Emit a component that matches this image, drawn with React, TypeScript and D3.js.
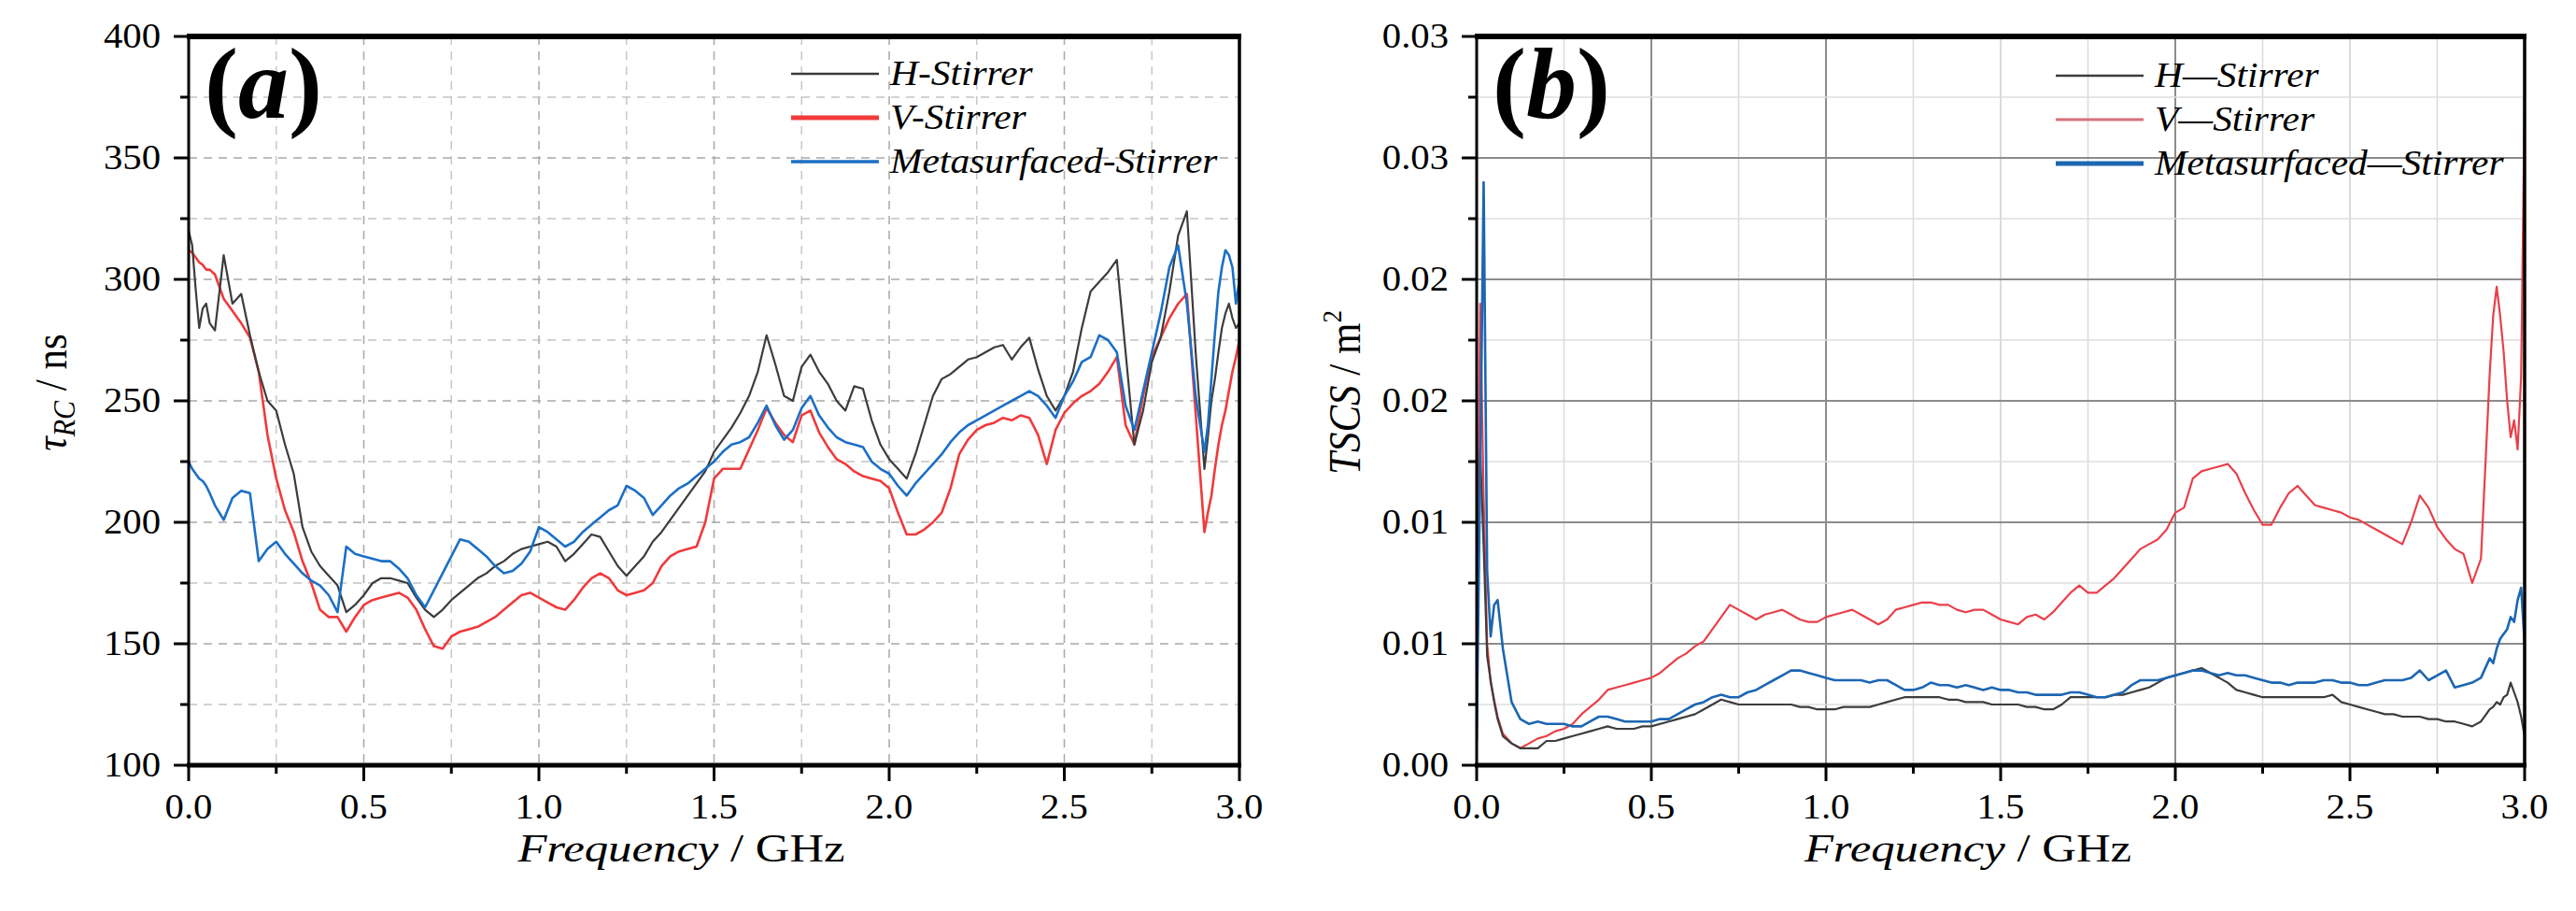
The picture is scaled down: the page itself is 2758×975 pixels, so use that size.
import React from 'react';
import * as d3 from 'd3';

const FONT = '"Liberation Serif", "Times New Roman", serif';

// frequency grid in GHz (denser at both band edges)
const freq = [
  0, 0.01, 0.02, 0.03, 0.04, 0.05, 0.06,
  0.075, 0.1, 0.125, 0.15, 0.175, 0.2, 0.225, 0.25, 0.275, 0.3,
  0.325, 0.35, 0.375, 0.4, 0.425, 0.45, 0.475, 0.5, 0.525, 0.55,
  0.575, 0.6, 0.625, 0.65, 0.675, 0.7, 0.725, 0.75, 0.775, 0.8,
  0.825, 0.85, 0.875, 0.9, 0.925, 0.95, 0.975, 1.0, 1.025, 1.05,
  1.075, 1.1, 1.125, 1.15, 1.175, 1.2, 1.225, 1.25, 1.275, 1.3,
  1.325, 1.35, 1.375, 1.4, 1.425, 1.45, 1.475, 1.5, 1.525, 1.55,
  1.575, 1.6, 1.625, 1.65, 1.675, 1.7, 1.725, 1.75, 1.775, 1.8,
  1.825, 1.85, 1.875, 1.9, 1.925, 1.95, 1.975, 2.0, 2.025, 2.05,
  2.075, 2.1, 2.125, 2.15, 2.175, 2.2, 2.225, 2.25, 2.275, 2.3,
  2.325, 2.35, 2.375, 2.4, 2.425, 2.45, 2.475, 2.5, 2.525, 2.55,
  2.575, 2.6, 2.625, 2.65, 2.675, 2.7, 2.725, 2.75, 2.775, 2.8,
  2.825, 2.85, 2.875, 2.9,
  2.91, 2.92, 2.93, 2.94, 2.95, 2.96, 2.97, 2.98, 2.99, 3.0,
];

// (a) tau_RC in ns
const tauH = [
  320, 314, 296, 280, 288, 290, 282,
  279, 310, 290, 294, 277, 262, 250, 246, 232, 220,
  198, 188, 182, 178, 174, 163, 166, 170, 175, 177,
  177, 176, 175, 169, 164, 161, 164, 168, 171, 174,
  177, 179, 182, 184, 187, 189, 190, 191, 192, 190,
  184, 187, 191, 195, 194, 188, 182, 178, 182, 186,
  192, 196, 201, 206, 211, 216, 221, 229, 234, 239,
  245, 252, 262, 277, 265, 252, 250, 264, 269, 262,
  257, 250, 246, 256, 255, 242, 232, 226, 222, 218,
  228, 240, 252, 259, 261, 264, 267, 268, 270, 272,
  273, 267, 272, 276, 263, 252, 246, 252, 262, 280,
  295, 299, 303, 308, 270, 232, 246, 266, 276, 295,
  318, 328, 270, 222,
  235, 250, 259, 270, 280, 286, 290, 284, 280, 282,
];
const tauV = [
  312, 311, 309, 307, 306, 304, 304,
  302, 292, 287, 282, 276, 262, 236, 218, 205, 196,
  184, 175, 164, 161, 161, 155, 161, 166, 168, 169,
  170, 171, 169, 164, 156, 149, 148, 153, 155, 156,
  157, 159, 161, 164, 167, 170, 171, 169, 167, 165,
  164, 168, 173, 177, 179, 177, 172, 170, 171, 172,
  175, 182, 186, 188, 189, 190, 200, 218, 222, 222,
  222, 230, 238, 247, 241, 236, 233, 244, 246, 237,
  231, 226, 224, 221, 219, 218, 217, 214, 204, 195,
  195, 197, 200, 204, 214, 228, 234, 238, 240, 241,
  243, 242, 244, 243, 236, 224, 238, 245, 249, 252,
  254, 257, 262, 268, 240, 232, 252, 268, 276, 284,
  290, 294, 245, 196,
  204, 211, 222, 232, 240, 246, 254, 262, 268, 275,
];
const tauM = [
  225, 222, 220, 218, 217, 215, 212,
  207, 201, 210, 213, 212, 184, 189, 192, 187, 183,
  179, 176, 174, 170, 163, 190, 187, 186, 185, 184,
  184, 181, 177, 170, 165, 172, 179, 186, 193, 192,
  189, 186, 182, 179, 180, 183, 188, 198, 196, 193,
  190, 192, 196, 199, 202, 205, 207, 215, 213, 210,
  203, 207, 211, 214, 216, 219, 222, 225, 229, 232,
  233, 235, 241, 248, 240, 234, 238, 247, 252, 244,
  239, 235, 233, 232, 231, 225, 222, 220, 215, 211,
  216, 220, 224, 228, 233, 237, 240, 242, 244, 246,
  248, 250, 252, 254, 252, 248, 243, 252, 258, 266,
  268, 277, 275, 270, 248, 238, 254, 270, 286, 305,
  314, 290, 252, 229,
  240, 259, 278, 295, 305, 312, 310, 305, 290, 300,
];

// (b) TSCS in m^2
const tscsH = [
  0.0050, 0.0130, 0.0090, 0.0045, 0.0035, 0.0026, 0.0019,
  0.0012, 0.0009, 0.0007, 0.0007, 0.0007, 0.0010, 0.0010, 0.0011, 0.0012, 0.0013,
  0.0014, 0.0015, 0.0016, 0.0015, 0.0015, 0.0015, 0.0016, 0.0016, 0.0017, 0.0018,
  0.0019, 0.0020, 0.0021, 0.0023, 0.0025, 0.0027, 0.0026, 0.0025, 0.0025, 0.0025,
  0.0025, 0.0025, 0.0025, 0.0025, 0.0024, 0.0024, 0.0023, 0.0023, 0.0023, 0.0024,
  0.0024, 0.0024, 0.0024, 0.0025, 0.0026, 0.0027, 0.0028, 0.0028, 0.0028, 0.0028,
  0.0028, 0.0027, 0.0027, 0.0026, 0.0026, 0.0026, 0.0025, 0.0025, 0.0025, 0.0025,
  0.0024, 0.0024, 0.0023, 0.0023, 0.0025, 0.0028, 0.0028, 0.0028, 0.0028, 0.0028,
  0.0029, 0.0029, 0.0030, 0.0031, 0.0032, 0.0034, 0.0036, 0.0037, 0.0038, 0.0039,
  0.0040, 0.0038, 0.0036, 0.0034, 0.0031, 0.0030, 0.0029, 0.0028, 0.0028, 0.0028,
  0.0028, 0.0028, 0.0028, 0.0028, 0.0028, 0.0029, 0.0026, 0.0025, 0.0024, 0.0023,
  0.0022, 0.0021, 0.0021, 0.0020, 0.0020, 0.0020, 0.0019, 0.0019, 0.0018, 0.0018,
  0.0017, 0.0016, 0.0018, 0.0023,
  0.0024, 0.0026, 0.0025, 0.0028, 0.0029, 0.0034, 0.0030, 0.0026, 0.0020, 0.0012,
];
const tscsV = [
  0.0040, 0.0190, 0.0110, 0.0050, 0.0034, 0.0027, 0.0020,
  0.0013, 0.0009, 0.0007, 0.0009, 0.0011, 0.0012, 0.0014, 0.0015, 0.0017, 0.0021,
  0.0024, 0.0027, 0.0031, 0.0032, 0.0033, 0.0034, 0.0035, 0.0036, 0.0038, 0.0041,
  0.0044, 0.0046, 0.0049, 0.0051, 0.0056, 0.0061, 0.0066, 0.0064, 0.0062, 0.0060,
  0.0062, 0.0063, 0.0064, 0.0062, 0.0060, 0.0059, 0.0059, 0.0061, 0.0062, 0.0063,
  0.0064, 0.0062, 0.0060, 0.0058, 0.0060, 0.0064, 0.0065, 0.0066, 0.0067, 0.0067,
  0.0066, 0.0066, 0.0064, 0.0063, 0.0064, 0.0064, 0.0062, 0.0060, 0.0059, 0.0058,
  0.0061, 0.0062, 0.0060, 0.0063, 0.0067, 0.0071, 0.0074, 0.0071, 0.0071, 0.0074,
  0.0077, 0.0081, 0.0085, 0.0089, 0.0091, 0.0093, 0.0097, 0.0104, 0.0106, 0.0118,
  0.0121, 0.0122, 0.0123, 0.0124, 0.0120, 0.0112, 0.0105, 0.0099, 0.0099, 0.0106,
  0.0112, 0.0115, 0.0111, 0.0107, 0.0106, 0.0105, 0.0104, 0.0102, 0.0101, 0.0099,
  0.0097, 0.0095, 0.0093, 0.0091, 0.0100, 0.0111, 0.0106, 0.0098, 0.0093, 0.0089,
  0.0087, 0.0075, 0.0085, 0.0161,
  0.0185, 0.0197, 0.0185, 0.0170, 0.0150, 0.0135, 0.0142, 0.0130, 0.0160, 0.0275,
];
const tscsM = [
  0.0010, 0.0120, 0.0240, 0.0080, 0.0053, 0.0066, 0.0068,
  0.0048, 0.0026, 0.0019, 0.0017, 0.0018, 0.0017, 0.0017, 0.0017, 0.0016, 0.0016,
  0.0018, 0.0020, 0.0020, 0.0019, 0.0018, 0.0018, 0.0018, 0.0018, 0.0019, 0.0019,
  0.0021, 0.0023, 0.0025, 0.0026, 0.0028, 0.0029, 0.0028, 0.0028, 0.0030, 0.0031,
  0.0033, 0.0035, 0.0037, 0.0039, 0.0039, 0.0038, 0.0037, 0.0036, 0.0035, 0.0035,
  0.0035, 0.0035, 0.0034, 0.0035, 0.0035, 0.0033, 0.0031, 0.0031, 0.0032, 0.0034,
  0.0033, 0.0033, 0.0032, 0.0033, 0.0032, 0.0031, 0.0032, 0.0031, 0.0031, 0.0030,
  0.0030, 0.0029, 0.0029, 0.0029, 0.0029, 0.0030, 0.0030, 0.0029, 0.0028, 0.0028,
  0.0029, 0.0030, 0.0033, 0.0035, 0.0035, 0.0035, 0.0036, 0.0037, 0.0038, 0.0039,
  0.0039, 0.0038, 0.0037, 0.0038, 0.0037, 0.0037, 0.0036, 0.0035, 0.0034, 0.0034,
  0.0033, 0.0034, 0.0034, 0.0034, 0.0035, 0.0035, 0.0034, 0.0034, 0.0033, 0.0033,
  0.0034, 0.0035, 0.0035, 0.0035, 0.0036, 0.0039, 0.0035, 0.0037, 0.0039, 0.0032,
  0.0033, 0.0034, 0.0036, 0.0044,
  0.0042, 0.0048, 0.0052, 0.0054, 0.0056, 0.0061, 0.0059, 0.0068, 0.0073, 0.0050,
];

const xTicks = [0, 0.5, 1, 1.5, 2, 2.5, 3];
const xTickLabels = ['0.0', '0.5', '1.0', '1.5', '2.0', '2.5', '3.0'];
const xMinor = [0.25, 0.75, 1.25, 1.75, 2.25, 2.75];
const tauTicks = [100, 150, 200, 250, 300, 350, 400];
const tauTickLabels = ['100', '150', '200', '250', '300', '350', '400'];
const tauMinor = [125, 175, 225, 275, 325, 375];
const tscsTicks = [0, 0.005, 0.01, 0.015, 0.02, 0.025, 0.03];
const tscsTickLabels = ['0.00', '0.01', '0.01', '0.02', '0.02', '0.03', '0.03'];
const tscsMinor = [0.0025, 0.0075, 0.0125, 0.0175, 0.0225, 0.0275];
const legendA = ['H-Stirrer', 'V-Stirrer', 'Metasurfaced-Stirrer'];
const legendB = ['H\u2014Stirrer', 'V\u2014Stirrer', 'Metasurfaced\u2014Stirrer'];

const TOP = 39;
const BOTTOM = 819;

// text with a slight horizontal stretch like the source figure
function T({ x, y, sx = 1.1, anchor = 'start', size, children, italic = false }: any) {
  return (
    <text
      transform={`translate(${x},${y}) scale(${sx},1)`}
      textAnchor={anchor}
      fontSize={size}
      fontFamily={FONT}
      fontStyle={italic ? 'italic' : 'normal'}
      fill="#000"
    >
      {children}
    </text>
  );
}

function Panel(props: any) {
  const { id, x0, x1, yDomain, yTicks, yLabels, yMinor, dashed, series, legend, legendX, legendY, letter, yTitle, yTitleX } = props;
  const x = d3.scaleLinear().domain([0, 3]).range([x0, x1]);
  const y = d3.scaleLinear().domain(yDomain).range([BOTTOM, TOP]);
  const line = d3.line<number>().x((_, i) => x(freq[i])).y(d => y(d));

  // grid colours: (a) dashed, (b) solid with darker majors
  const gridX = (v: number, major: boolean) => {
    if (dashed) return major ? '#a8a8a8' : '#c8c8c8';
    if (v === 0.5 || v === 1 || v === 2) return '#8c8c8c';
    return '#dadada';
  };
  const gridY = (major: boolean) => (dashed ? (major ? '#a8a8a8' : '#c4c4c4') : major ? '#8c8c8c' : '#dedede');
  const dash = dashed ? '9 7' : undefined;

  return (
    <g>
      <defs>
        <clipPath id={`clip-${id}`}>
          <rect x={x0} y={TOP} width={x1 - x0} height={BOTTOM - TOP} />
        </clipPath>
      </defs>

      {/* grid */}
      {xMinor.map(v => (
        <line key={`gxm${v}`} x1={x(v)} x2={x(v)} y1={TOP} y2={BOTTOM} stroke={gridX(v, false)} strokeWidth={1.5} strokeDasharray={dash} />
      ))}
      {xTicks.slice(1, -1).map(v => (
        <line key={`gx${v}`} x1={x(v)} x2={x(v)} y1={TOP} y2={BOTTOM} stroke={gridX(v, true)} strokeWidth={dashed ? 1.5 : 2} strokeDasharray={dash} />
      ))}
      {yMinor.map((v: number) => (
        <line key={`gym${v}`} x1={x0} x2={x1} y1={y(v)} y2={y(v)} stroke={gridY(false)} strokeWidth={1.5} strokeDasharray={dash} />
      ))}
      {yTicks.slice(1, -1).map((v: number) => (
        <line key={`gy${v}`} x1={x0} x2={x1} y1={y(v)} y2={y(v)} stroke={gridY(true)} strokeWidth={dashed ? 1.5 : 2} strokeDasharray={dash} />
      ))}

      {/* data */}
      <g clipPath={`url(#clip-${id})`}>
        {series.map((s: any, k: number) => (
          <path key={k} d={line(s.values) || ''} fill="none" stroke={s.color} strokeWidth={s.width} strokeLinejoin="round" />
        ))}
      </g>

      {/* frame */}
      <line x1={x0 - 2} x2={x1 + 2} y1={TOP} y2={TOP} stroke="#000" strokeWidth={6} />
      <line x1={x0 - 2} x2={x1 + 2} y1={BOTTOM} y2={BOTTOM} stroke="#000" strokeWidth={5} />
      <line x1={x0} x2={x0} y1={TOP} y2={BOTTOM} stroke="#000" strokeWidth={3} />
      <line x1={x1} x2={x1} y1={TOP} y2={BOTTOM} stroke="#000" strokeWidth={3.5} />

      {/* x ticks */}
      {xTicks.map((v, i) => (
        <g key={`xt${v}`}>
          <line x1={x(v)} x2={x(v)} y1={BOTTOM} y2={BOTTOM + 17} stroke="#000" strokeWidth={3} />
          <T x={x(v)} y={876} size={37} anchor="middle">{xTickLabels[i]}</T>
        </g>
      ))}
      {xMinor.map(v => (
        <line key={`xm${v}`} x1={x(v)} x2={x(v)} y1={BOTTOM} y2={BOTTOM + 9} stroke="#000" strokeWidth={3} />
      ))}

      {/* y ticks */}
      {yTicks.map((v: number, i: number) => (
        <g key={`yt${v}`}>
          <line x1={x0 - 16} x2={x0} y1={y(v)} y2={y(v)} stroke="#000" strokeWidth={3} />
          <T x={x0 - 30} y={y(v) + 12} size={37} anchor="end">{yLabels[i]}</T>
        </g>
      ))}
      {yMinor.map((v: number) => (
        <line key={`ym${v}`} x1={x0 - 9} x2={x0} y1={y(v)} y2={y(v)} stroke="#000" strokeWidth={3} />
      ))}

      {/* axis titles */}
      <text
        transform={`translate(${(x0 + x1) / 2 - 35},922) scale(1.18,1)`}
        textAnchor="middle"
        fontSize={43}
        fontFamily={FONT}
        fill="#000"
      >
        <tspan fontStyle="italic">Frequency</tspan>
        <tspan> / GHz</tspan>
      </text>
      <text
        transform={`translate(${yTitleX},420) rotate(-90) scale(1,1.12)`}
        textAnchor="middle"
        fontSize={43}
        fontFamily={FONT}
        fill="#000"
      >
        {yTitle}
      </text>

      {/* panel letter */}
      <text x={x0 + 17} y={126} fontSize={108} fontFamily={FONT} fontWeight="bold" fill="#000">
        <tspan>(</tspan>
        <tspan fontStyle="italic">{letter}</tspan>
        <tspan>)</tspan>
      </text>

      {/* legend */}
      {legend.map((name: string, k: number) => {
        const ly = legendY + k * 47;
        const s = series[props.legendOrder[k]];
        return (
          <g key={name}>
            <line x1={legendX} x2={legendX + 94} y1={ly} y2={ly} stroke={s.legendColor || s.color} strokeWidth={s.legendWidth} />
            <T x={legendX + 106} y={ly + 12} size={37} sx={1.12} italic>{name}</T>
          </g>
        );
      })}
    </g>
  );
}

export default function App() {
  const seriesA = [
    { values: tauV, color: '#f03a3c', width: 2.6, legendWidth: 5 },
    { values: tauH, color: '#3c3c3c', width: 2.2, legendWidth: 2.5 },
    { values: tauM, color: '#1b6fc6', width: 2.6, legendWidth: 3.5 },
  ];
  const seriesB = [
    { values: tscsV, color: '#e8404a', width: 2.2, legendWidth: 3, legendColor: '#d8707a' },
    { values: tscsH, color: '#3c3c3c', width: 2.2, legendWidth: 2.5 },
    { values: tscsM, color: '#1c66b2', width: 2.6, legendWidth: 5 },
  ];
  return (
    <svg width={2758} height={975} style={{ position: 'absolute', left: 0, top: 0, background: '#fff' }}>
      <rect width={2758} height={975} fill="#fff" />
      <Panel
        id="a"
        x0={202}
        x1={1327}
        yDomain={[100, 400]}
        yTicks={tauTicks}
        yLabels={tauTickLabels}
        yMinor={tauMinor}
        dashed
        series={seriesA}
        legend={legendA}
        legendOrder={[1, 0, 2]}
        legendX={847}
        legendY={79}
        letter="a"
        yTitleX={71}
        yTitle={
          <>
            <tspan fontStyle="italic">τ</tspan>
            <tspan fontStyle="italic" fontSize={30} dy={8}>RC</tspan>
            <tspan dy={-8}> / ns</tspan>
          </>
        }
      />
      <Panel
        id="b"
        x0={1581}
        x1={2703}
        yDomain={[0, 0.03]}
        yTicks={tscsTicks}
        yLabels={tscsTickLabels}
        yMinor={tscsMinor}
        dashed={false}
        series={seriesB}
        legend={legendB}
        legendOrder={[1, 0, 2]}
        legendX={2201}
        legendY={81}
        letter="b"
        yTitleX={1456}
        yTitle={
          <>
            <tspan fontStyle="italic">TSCS</tspan>
            <tspan> / m</tspan>
            <tspan fontSize={27} dy={-18}>2</tspan>
          </>
        }
      />
    </svg>
  );
}
